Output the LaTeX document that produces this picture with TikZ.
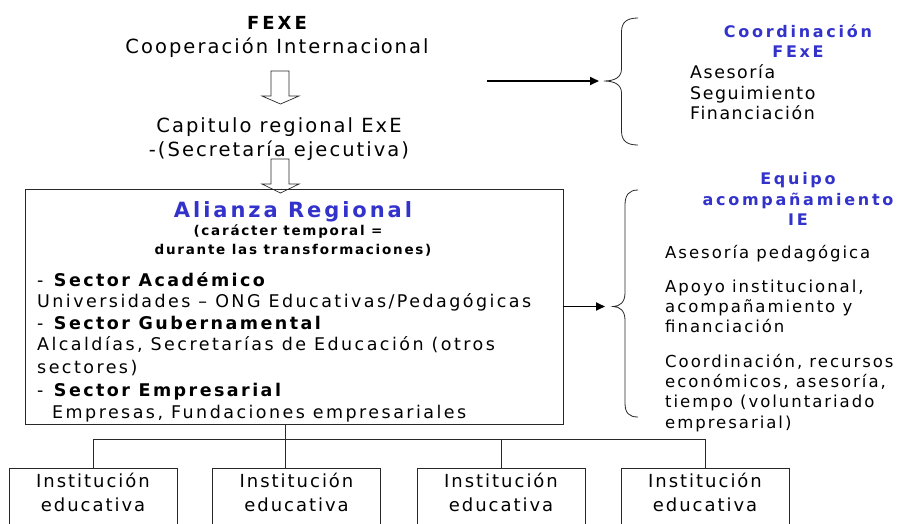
\documentclass[tikz,border=0pt]{standalone}
\usepackage{fontspec}
\setmainfont{DejaVu Sans}
\newfontfamily\fsA{DejaVu Sans}[LetterSpace=10.5]
\newfontfamily\fsB{DejaVu Sans}[LetterSpace=17]
\newfontfamily\fsH{DejaVu Sans}[LetterSpace=13]
\newfontfamily\fsC{DejaVu Sans}[LetterSpace=14]
\newfontfamily\fsD{DejaVu Sans}[LetterSpace=12]
\newfontfamily\fsG{DejaVu Sans}[LetterSpace=9]
\newfontfamily\fsE{DejaVu Sans}[LetterSpace=11]
\newfontfamily\fsF{DejaVu Sans}[LetterSpace=14]
\usetikzlibrary{arrows.meta}
\definecolor{blueT}{RGB}{51,51,204}
\definecolor{lineC}{RGB}{40,40,40}
\begin{document}
\begin{tikzpicture}[x=1pt,y=-1pt,
  txt/.style={inner sep=0pt, anchor=base, text=black},
  txtl/.style={inner sep=0pt, anchor=base west, text=black},
  topf/.style={font=\fsA\fontsize{19.5}{22}\selectfont},
  topb/.style={font=\fsB\bfseries\fontsize{18}{20}\selectfont},
  alif/.style={font=\fsF\bfseries\fontsize{21}{24}\selectfont, text=blueT},
  subf/.style={font=\fsH\bfseries\fontsize{13.5}{15}\selectfont},
  bodyf/.style={font=\fsC\fontsize{17.5}{20}\selectfont},
  rightf/.style={font=\fsD\fontsize{16.5}{19}\selectfont},
  rtopf/.style={font=\fsG\fontsize{17.4}{19}\selectfont},
  headf/.style={font=\fsB\bfseries\fontsize{16}{18}\selectfont, text=blueT},
  instf/.style={font=\fsE\fontsize{18}{20}\selectfont},
  bx/.style={draw=lineC, line width=0.8pt, inner sep=0pt},
  ibox/.style={draw=lineC, line width=0.8pt, minimum width=168pt, minimum height=70pt, inner sep=0pt},
  conn/.style={draw=lineC, line width=0.8pt},
  arr/.style={draw=black, line width=1.8pt, -{Triangle[length=9pt,width=8pt]}},
  blockarrow/.style={draw=lineC, line width=0.7pt, fill=white},
  brc/.style={draw=lineC, line width=0.8pt}]
\useasboundingbox (0,0) rectangle (898,523);
\clip (0,0) rectangle (898,523);

% top left texts
\node[txt, topb] (fexe) at (277,29) {FEXE};
\node[txt, topf] (coop) at (277,53) {Cooperación Internacional};
\node[txt, topf] (capit) at (279,132) {Capitulo regional ExE};
\node[txt, topf] (secre) at (279,156) {-(Secretaría ejecutiva)};

% block arrows
\draw[blockarrow] (271,71) -- (289,71) -- (289,96) -- (299,96) -- (280.5,104) -- (262,96) -- (271,96) -- cycle;
\draw[blockarrow] (271,159) -- (289,159) -- (289,184) -- (299,184) -- (280.5,193) -- (262,184) -- (271,184) -- cycle;

% alliance box
\node[bx, minimum width=538pt, minimum height=235pt] (ali) at (294,306.5) {};
\node[txt, alif] (alit) at (293,217) {Alianza Regional};
\node[txt, subf] (ct1) at (288,235) {(carácter temporal =};
\node[txt, subf] (ct2) at (293,254) {durante las transformaciones)};
\node[txtl, bodyf] (s1) at (37,286) {- \textbf{Sector Académico}};
\node[txtl, bodyf] (u1) at (37,307) {Universidades – ONG Educativas/Pedagógicas};
\node[txtl, bodyf] (s2) at (37,329) {- \textbf{Sector Gubernamental}};
\node[txtl, bodyf] (u2) at (37,350) {Alcaldías, Secretarías de Educación (otros};
\node[txtl, bodyf] (u2b) at (37,373) {sectores)};
\node[txtl, bodyf] (s3) at (37,396) {- \textbf{Sector Empresarial}};
\node[txtl, bodyf] (u3) at (52,418) {Empresas, Fundaciones empresariales};

% bottom boxes
\node[ibox] (i1) at (93,503) {};
\node[ibox] (i2) at (296.5,503) {};
\node[ibox] (i3) at (501,503) {};
\node[ibox] (i4) at (705,503) {};
\foreach \n/\x in {1/93,2/296.5,3/501,4/705}{
  \node[txt, instf] (ta\n) at (\x,487.5) {Institución};
  \node[txt, instf] (tb\n) at (\x,511.5) {educativa};
}
\coordinate (trunk) at (285,439);
\draw[conn] (ali.south -| trunk) -- (i2.north -| trunk);
\draw[conn] (i1.north) -- (i1.north |- trunk) -- (i4.north |- trunk) -- (i4.north);
\draw[conn] (i3.north |- trunk) -- (i3.north);

% braces
\coordinate (b1) at (604,81);
\coordinate (b2) at (613,306.5);
\draw[brc] (638,18) .. controls (627,18) and (621.5,22) .. (621.5,32) -- (621.5,69) .. controls (621.5,77) and (615,81) .. (b1) .. controls (615,81) and (621.5,85) .. (621.5,93) -- (621.5,131) .. controls (621.5,141) and (627,145) .. (638,145);
\draw[brc] (638,190) .. controls (629,190) and (625,195) .. (625,205) -- (625,293) .. controls (625,302) and (620,306.5) .. (b2) .. controls (620,306.5) and (625,311) .. (625,320) -- (625,403) .. controls (625,413) and (629,417) .. (638,417);

% arrows
\coordinate (a1s) at (487,81);
\draw[arr] (a1s) -- ([xshift=-5pt]b1);
\draw[arr] (ali.east) -- ([xshift=-8pt]b2);

% right texts
\node[txt, headf] (cf1) at (798,37) {Coordinación};
\node[txt, headf] (cf2) at (798,57) {FExE};
\node[txtl, rtopf] (r1) at (690,78) {Asesoría};
\node[txtl, rtopf] (r2) at (690,99) {Seguimiento};
\node[txtl, rtopf] (r3) at (690,119) {Financiación};
\node[txt, headf] (eq1) at (798,184) {Equipo};
\node[txt, headf] (eq2) at (798,205) {acompañamiento};
\node[txt, headf] (eq3) at (798,225) {IE};
\node[txtl, rightf] (q1) at (665,258) {Asesoría pedagógica};
\node[txtl, rightf] (q2) at (665,292) {Apoyo institucional,};
\node[txtl, rightf] (q3) at (665,312) {acompañamiento y};
\node[txtl, rightf] (q4) at (665,332) {financiación};
\node[txtl, rightf] (q5) at (665,367) {Coordinación, recursos};
\node[txtl, rightf] (q6) at (665,387) {económicos, asesoría,};
\node[txtl, rightf] (q7) at (665,407) {tiempo (voluntariado};
\node[txtl, rightf] (q8) at (665,428) {empresarial)};
\end{tikzpicture}
\end{document}
